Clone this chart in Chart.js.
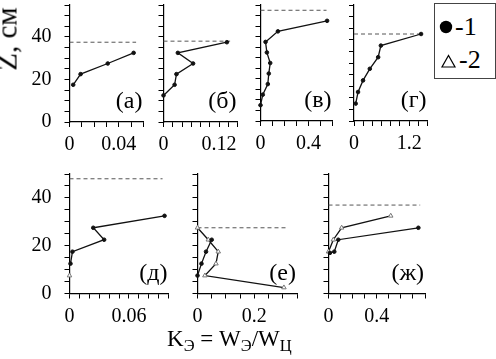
<!DOCTYPE html>
<html>
<head>
<meta charset="utf-8">
<script src="https://cdn.jsdelivr.net/npm/chart.js@4/dist/chart.umd.min.js"></script>
<style>
  body { margin: 0; background: #fff; }
  #page { position: relative; width: 496px; height: 359px; overflow: hidden; font-family: "Liberation Serif", serif; color: #000; }
  #page canvas { position: absolute; left: 0; top: 0; }
  #y-title { position: absolute; left: 7px; top: 39px; font-size: 29px; line-height: 1; white-space: nowrap; transform: translate(-50%, -50%) rotate(-90deg); }
  #x-title { position: absolute; left: 167px; top: 327px; font-size: 23px; line-height: 1; white-space: nowrap; }
  #x-title sub { font-size: 72%; vertical-align: -0.3em; line-height: 0; }
  #legend { position: absolute; left: 434px; top: 3px; }
</style>
</head>
<body>
<div id="page">
  <canvas id="panel-a" width="496" height="359"></canvas>
  <canvas id="panel-b" width="496" height="359"></canvas>
  <canvas id="panel-v" width="496" height="359"></canvas>
  <canvas id="panel-g" width="496" height="359"></canvas>
  <canvas id="panel-d" width="496" height="359"></canvas>
  <canvas id="panel-e" width="496" height="359"></canvas>
  <canvas id="panel-zh" width="496" height="359"></canvas>
  <div id="y-title">Z, см</div>
  <div id="x-title">K<sub>Э</sub> = W<sub>Э</sub>/W<sub>Ц</sub></div>
  <svg id="legend" width="62" height="76">
    <rect x="0.5" y="0.5" width="61" height="75" fill="#fff" stroke="#444"/>
    <circle cx="12" cy="24" r="6.2" fill="#000"/>
    <polygon points="8,64 21,64 14.5,52.5" fill="none" stroke="#000" stroke-width="1.2"/>
    <text x="21" y="32" font-family="Liberation Serif" font-size="26">-1</text>
    <text x="25" y="65" font-family="Liberation Serif" font-size="26">-2</text>
  </svg>
</div>
<script>
// depth Z (cm) and coefficient K for every panel, series 1 = dots, series 2 = triangles
const aDepth1 = [17.5, 22.5, 27.5, 32.5];
const aK1 = [0.003, 0.009, 0.031, 0.052];

const bDepth1 = [12.5, 17.5, 22.5, 27.5, 32.5, 37.5];
const bK1 = [0, 0.024, 0.028, 0.064, 0.031, 0.137];

const vDepth1 = [7.5, 12.5, 17.5, 22.5, 27.5, 32.5, 37.5, 42.5, 47.5];
const vK1 = [0, 0.019, 0.061, 0.069, 0.081, 0.053, 0.042, 0.145, 0.555];

const gDepth1 = [7.5, 12.5, 17.5, 22.5, 27.5, 32.5, 37.5];
const gK1 = [0.037, 0.088, 0.197, 0.344, 0.526, 0.585, 1.46];

const dDepth1 = [12.5, 17.5, 22.5, 27.5, 32.5];
const dK1 = [0.001, 0.003, 0.035, 0.024, 0.096];
const dDepth2 = [7.5];
const dK2 = [0];

const eDepth1 = [7.5, 12.5, 17.5, 22.5];
const eK1 = [0, 0.014, 0.03, 0.05];
const eDepth2 = [2.5, 7.5, 12.5, 17.5, 22.5, 27.5];
const eK2 = [0.304, 0.026, 0.065, 0.073, 0.038, 0];

const zhDepth1 = [17, 17.5, 22.5, 27.5];
const zhK1 = [0.012, 0.048, 0.081, 0.745];
const zhDepth2 = [17.5, 22.5, 27.5, 32.5];
const zhK2 = [0, 0.04, 0.109, 0.516];

// dashed surface level of each panel and how far it runs along K
const panelNames = ['(а)', '(б)', '(в)', '(г)', '(д)', '(е)', '(ж)'];
const surfaceLevels = [37.5, 38, 52.5, 37.5, 48, 27.5, 37];
const surfaceEnds = [0.054, 0.144, 0.55, 1.46, 0.094, 0.314, 0.76];

// axis ranges and the tick values that carry a label
const xMaxes = [0.06, 0.16, 0.6, 1.6, 0.1, 0.35, 0.8];
const xSteps = [0.01, 0.02, 0.1, 0.2, 0.01, 0.05, 0.1];
const xLabelled = [[0, 0.04], [0, 0.12], [0, 0.4], [0, 1.2], [0, 0.06], [0, 0.2], [0, 0.4]];
const yMaxes = [55, 55, 55, 50, 50, 50, 50];
const yLabelled = [[0, 20, 40], [], [], [], [0, 20, 40], [], []];

const Y_AXIS_SPACE = 50;
const X_AXIS_SPACE = 35;

const panelBoxes = [
  { left: 69.5, top: 1, right: 143.5, bottom: 122 },
  { left: 163.5, top: 1, right: 237.5, bottom: 122 },
  { left: 260.5, top: 1, right: 332.5, bottom: 121 },
  { left: 354, top: 1, right: 427.5, bottom: 121 },
  { left: 69.5, top: 174, right: 168.5, bottom: 293.5 },
  { left: 197.5, top: 174, right: 297, bottom: 293.5 },
  { left: 328.5, top: 174, right: 425, bottom: 293.5 },
];

const panelSeries = [
  [[aK1, aDepth1]],
  [[bK1, bDepth1]],
  [[vK1, vDepth1]],
  [[gK1, gDepth1]],
  [[dK1, dDepth1], [dK2, dDepth2]],
  [[eK1, eDepth1], [eK2, eDepth2]],
  [[zhK1, zhDepth1], [zhK2, zhDepth2]],
];

Chart.defaults.font.family = '"Liberation Serif", serif';
Chart.defaults.font.size = 20;
Chart.defaults.color = '#000';

const panelLabelPlugin = {
  id: 'panelLabel',
  afterDraw(chart, args, opts) {
    const { ctx, chartArea } = chart;
    ctx.save();
    ctx.font = '24px "Liberation Serif"';
    ctx.fillStyle = '#000';
    ctx.textAlign = 'right';
    ctx.textBaseline = 'middle';
    ctx.fillText(opts.text, chartArea.right - 1, chartArea.bottom - 20);
    ctx.restore();
  },
};

['panel-a', 'panel-b', 'panel-v', 'panel-g', 'panel-d', 'panel-e', 'panel-zh'].forEach((id, i) => {
  createPanelChart(id, i);
});

function createPanelChart(id, i) {
  const ctx = document.getElementById(id).getContext('2d');

  return new Chart(ctx, {
    type: 'scatter',
    data: { datasets: createDatasets(i) },
    options: createOptions(i),
    plugins: [panelLabelPlugin],
  });
}

function toPoints(xs, ys) {
  return xs.map((x, j) => ({ x: x, y: ys[j] }));
}

function createDatasets(i) {
  const datasets = panelSeries[i].map(([k, depth], s) => {
    const triangle = s === 1;
    return {
      data: toPoints(k, depth),
      showLine: true,
      borderColor: '#111',
      borderWidth: 1.3,
      pointStyle: triangle ? 'triangle' : 'circle',
      pointRadius: triangle ? 2.6 : 1.8,
      pointBackgroundColor: triangle ? '#fff' : '#111',
      pointBorderColor: triangle ? '#777' : '#111',
      pointBorderWidth: 1,
      clip: false,
    };
  });

  datasets.push({
    data: toPoints([0, surfaceEnds[i]], [surfaceLevels[i], surfaceLevels[i]]),
    showLine: true,
    borderColor: '#555',
    borderWidth: 1,
    borderDash: [4, 3],
    pointRadius: 0,
    clip: false,
  });

  return datasets;
}

function tickText(value, shown, step) {
  const hit = shown.find((v) => Math.abs(v - value) < step / 10);
  return hit === undefined ? '' : String(hit);
}

function createOptions(i) {
  const box = panelBoxes[i];

  return {
    responsive: false,
    animation: false,
    layout: {
      padding: {
        left: box.left - Y_AXIS_SPACE,
        top: box.top,
        right: 496 - box.right,
        bottom: 359 - box.bottom - X_AXIS_SPACE,
      },
    },
    plugins: {
      legend: { display: false },
      tooltip: { enabled: false },
      panelLabel: { text: panelNames[i] },
    },
    scales: {
      x: {
        type: 'linear',
        min: 0,
        max: xMaxes[i],
        border: { color: '#000', width: 1.2 },
        grid: { drawOnChartArea: false, color: '#000', tickLength: 5 },
        ticks: {
          stepSize: xSteps[i],
          maxTicksLimit: 100,
          autoSkip: false,
          maxRotation: 0,
          padding: 6,
          callback: (value) => tickText(value, xLabelled[i], xSteps[i]),
        },
        afterFit: (scale) => {
          scale.height = X_AXIS_SPACE;
          scale.paddingLeft = 0;
          scale.paddingRight = 0;
        },
      },
      y: {
        type: 'linear',
        min: 0,
        max: yMaxes[i],
        border: { color: '#000', width: 1.2 },
        grid: { drawOnChartArea: false, color: '#000', tickLength: 5 },
        ticks: {
          stepSize: 5,
          maxTicksLimit: 100,
          autoSkip: false,
          padding: 13,
          callback: (value) => tickText(value, yLabelled[i], 5),
        },
        afterFit: (scale) => {
          scale.width = Y_AXIS_SPACE;
          scale.paddingTop = 0;
          scale.paddingBottom = 0;
        },
      },
    },
  };
}
</script>
</body>
</html>
